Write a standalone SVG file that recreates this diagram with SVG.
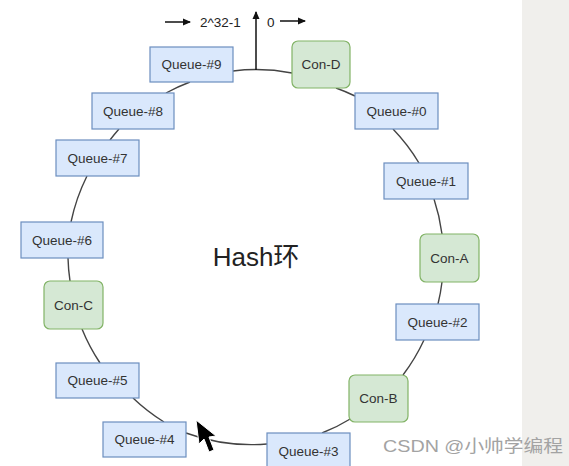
<svg xmlns="http://www.w3.org/2000/svg" width="569" height="466" viewBox="0 0 569 466">
  <style>
    .q rect { fill: #dae8fc; stroke: #6c8ebf; stroke-width: 1.2; }
    .c rect { fill: #d5e8d4; stroke: #82b366; stroke-width: 1.2; }
    .lbl { font-family: "Liberation Sans", Arial, sans-serif; font-size: 13.5px; fill: #333333; text-anchor: middle; dominant-baseline: central; }
    .edge { fill: none; stroke: #444444; stroke-width: 1.4; }
    .top { font-family: "Liberation Sans", Arial, sans-serif; font-size: 13.5px; fill: #222222; }
    .arr { stroke: #111111; stroke-width: 1.5; fill: none; }
  </style>
  <defs>
    <marker id="ah" markerWidth="8" markerHeight="8" refX="7" refY="4" orient="auto" markerUnits="userSpaceOnUse">
      <path d="M0,0.5 L8,4 L0,7.5 Z" fill="#111111"/>
    </marker>
  </defs>
  <rect x="0" y="0" width="569" height="466" fill="#ffffff"/>
  <rect x="522" y="0" width="47" height="466" fill="#f0efec"/>

  <g id="connectors">
    <path class="edge" d="M233,71 A190,190 0 0 1 292,73"/>
    <path class="edge" d="M336,88 A190,190 0 0 1 355,96"/>
    <path class="edge" d="M393,129 A190,190 0 0 1 419,163"/>
    <path class="edge" d="M434,199 A190,190 0 0 1 442,234"/>
    <path class="edge" d="M442,282 A190,190 0 0 1 438,304"/>
    <path class="edge" d="M424,340 A190,190 0 0 1 403,375"/>
    <path class="edge" d="M352,418 A190,190 0 0 1 322,433"/>
    <path class="edge" d="M267,444 A190,190 0 0 1 186,433"/>
    <path class="edge" d="M164,422 A190,190 0 0 1 133,398"/>
    <path class="edge" d="M100,363 A190,190 0 0 1 82,329"/>
    <path class="edge" d="M70,281 A190,190 0 0 1 68,258"/>
    <path class="edge" d="M71,222 A190,190 0 0 1 87,176"/>
    <path class="edge" d="M110,140 A190,190 0 0 1 119,129"/>
    <path class="edge" d="M166,93 A190,190 0 0 1 190,82"/>
    <line class="arr" x1="256" y1="70" x2="256" y2="12" marker-end="url(#ah)"/>
    <line class="arr" x1="165" y1="22" x2="190" y2="22" marker-end="url(#ah)"/>
    <line class="arr" x1="280" y1="21" x2="305" y2="21" marker-end="url(#ah)"/>
  </g>

  <text class="top" x="200" y="27">2^32-1</text>
  <text class="top" x="267" y="27">0</text>

  <g id="queue9" class="q"><rect x="150" y="47" width="83" height="35"/><text class="lbl" x="191.5" y="64.5">Queue-#9</text></g>
  <g id="conD" class="c"><rect x="292" y="41" width="58" height="47" rx="6"/><text class="lbl" x="321" y="64.5">Con-D</text></g>
  <g id="queue0" class="q"><rect x="355" y="93" width="83" height="36"/><text class="lbl" x="396.5" y="111">Queue-#0</text></g>
  <g id="queue1" class="q"><rect x="384" y="163" width="84" height="36"/><text class="lbl" x="426" y="181">Queue-#1</text></g>
  <g id="conA" class="c"><rect x="420" y="234" width="59" height="48" rx="6"/><text class="lbl" x="449.5" y="258">Con-A</text></g>
  <g id="queue2" class="q"><rect x="396" y="304" width="83" height="36"/><text class="lbl" x="437.5" y="322">Queue-#2</text></g>
  <g id="conB" class="c"><rect x="349" y="375" width="59" height="47" rx="6"/><text class="lbl" x="378.5" y="398.5">Con-B</text></g>
  <g id="queue3" class="q"><rect x="267" y="433" width="83" height="36"/><text class="lbl" x="308.5" y="451">Queue-#3</text></g>
  <g id="queue4" class="q"><rect x="103" y="422" width="83" height="35"/><text class="lbl" x="144.5" y="439.5">Queue-#4</text></g>
  <g id="queue5" class="q"><rect x="56" y="363" width="83" height="35"/><text class="lbl" x="97.5" y="380.5">Queue-#5</text></g>
  <g id="conC" class="c"><rect x="44" y="281" width="59" height="48" rx="6"/><text class="lbl" x="73.5" y="305">Con-C</text></g>
  <g id="queue6" class="q"><rect x="21" y="222" width="82" height="36"/><text class="lbl" x="62" y="240">Queue-#6</text></g>
  <g id="queue7" class="q"><rect x="56" y="140" width="83" height="36"/><text class="lbl" x="97.5" y="158">Queue-#7</text></g>
  <g id="queue8" class="q"><rect x="92" y="93" width="82" height="36"/><text class="lbl" x="133" y="111">Queue-#8</text></g>

  <text x="256" y="266" font-family="'Liberation Sans', 'Noto Sans CJK SC', sans-serif" font-size="26" fill="#222222" text-anchor="middle">Hash环</text>

  <polygon points="196,420 199,444 204,439 209,452 214,450 209,437 216,436" fill="#000000" stroke="#ffffff" stroke-width="1"/>

  <text x="383" y="452" font-family="'Liberation Sans', 'Noto Sans CJK SC', sans-serif" font-size="17" fill="#a3a3a3" textLength="180" lengthAdjust="spacingAndGlyphs">CSDN @小帅学编程</text>
</svg>
